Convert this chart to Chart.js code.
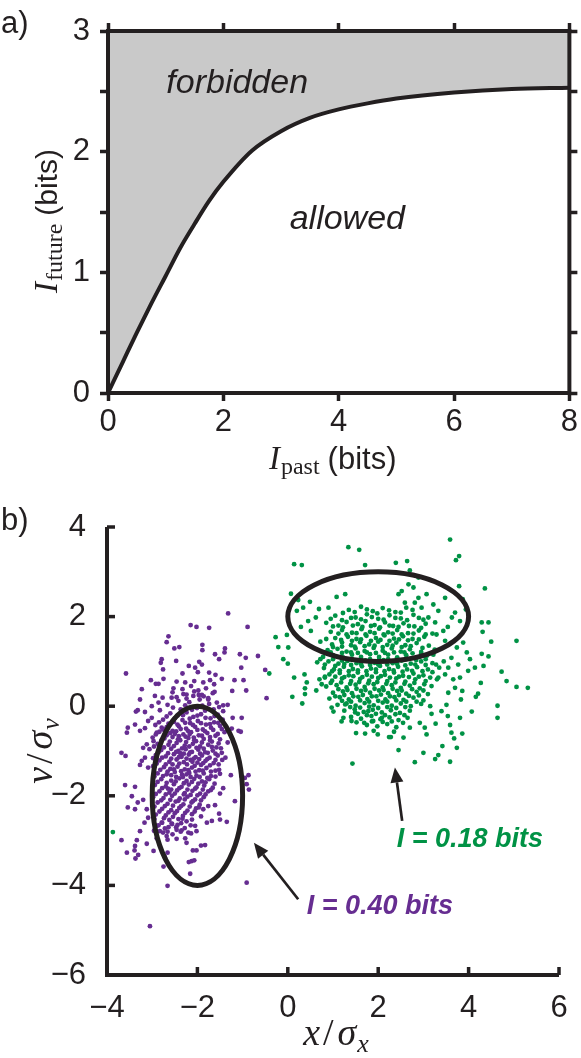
<!DOCTYPE html>
<html>
<head>
<meta charset="utf-8">
<script src="https://cdn.jsdelivr.net/npm/chart.js@4.4.0/dist/chart.umd.min.js"></script>
<style>
  body { margin: 0; background: #fff; }
  #wrap { position: relative; width: 581px; height: 1058px; }
  canvas { position: absolute; left: 0; }
  #boundChart { top: 0; }
  #scatterChart { top: 480px; }
</style>
</head>
<body>
<div id="wrap">
  <canvas id="boundChart" width="581" height="480"></canvas>
  <canvas id="scatterChart" width="581" height="578"></canvas>
</div>
<script>
// ---------- panel a: information bound ----------
const pastBits   = [0, 0.25, 0.5, 0.75, 1, 1.25, 1.5, 1.75, 2, 2.5, 3, 3.5, 4, 4.5, 5, 6, 7, 8];
const futureBits = [0, 0.25, 0.5, 0.74, 0.97, 1.2, 1.4, 1.59, 1.75, 2.01, 2.17, 2.28, 2.35, 2.4, 2.44, 2.49, 2.52, 2.53];
const regionNames = ['forbidden', 'allowed'];

// ---------- panel b: samples ----------
const purplePoints = [
  // sparse halo
  [-1.32,2.07],[-2.15,1.81],[-2.02,1.77],[-1.74,1.75],[-0.89,1.77],[-2.64,1.56],[-2.68,1.43],[-2.40,1.32],
  [-2.51,1.29],[-1.89,1.37],[-1.89,1.25],[-1.39,1.29],[-1.40,1.20],[-1.61,1.16],[-1.06,1.16],[-0.93,1.08],
  [-1.52,1.05],[-2.79,1.05],[-2.47,1.01],[-2.81,0.97],[-1.96,0.99],[-1.90,0.93],[-2.19,0.90],[-2.05,0.86],
  [-1.03,0.86],[-2.76,0.82],[-3.58,0.73],[-2.33,0.73],[-1.99,0.76],[-1.74,0.75],[-1.60,0.70],[-1.46,0.61],
  [-1.18,0.58],[-0.98,0.58],[-3.03,0.58],[-2.92,0.50],[-2.86,0.50],[-2.75,0.61],[-2.46,0.55],[-2.27,0.53],
  [-2.07,0.56],[-1.87,0.53],[-1.72,0.58],[-3.23,0.38],[-2.53,0.40],[-2.33,0.38],[-2.14,0.45],[-1.98,0.35],
  [-1.81,0.40],[-1.63,0.49],[-1.62,0.32],[-1.23,0.34],[-0.92,0.35],[-3.27,0.15],[-2.94,0.23],[-2.77,0.19],
  [-2.57,0.19],[-2.24,0.26],[-2.09,0.23],[-1.90,0.25],[-1.76,0.15],[-1.57,0.08],[-1.43,0.02],[-1.33,0.03],
  [-1.43,-0.11],[-3.36,-0.12],[-3.32,-0.09],[-3.16,-0.13],[-3.01,0.0],[-2.86,0.08],[-3.01,-0.26],[-3.09,-0.33],
  [-1.22,-0.26],[-1.02,-0.26],[-3.54,-0.48],[-3.56,-0.59],[-3.27,-0.55],[-3.16,-0.49],[-3.38,-0.41],[-2.79,-0.48],
  [-2.90,-0.59],[-1.09,-0.55],[-1.04,-0.57],[-1.24,-0.50],[-3.12,-0.85],[-3.20,-0.93],[-3.68,-1.04],[-3.59,-1.11],
  [-2.97,-0.78],[-3.27,-1.31],[-3.23,-1.22],[-3.16,-1.15],[-3.09,-1.37],[-0.87,-1.54],[-0.95,-1.60],[-0.91,-1.74],
  [-0.86,-1.86],[-1.03,-1.56],[-1.26,-1.54],[-1.17,-2.12],[-1.43,-1.83],[-1.50,-1.95],[-3.60,-1.76],[-3.38,-1.80],
  [-3.45,-2.01],[-3.54,-2.26],[-3.32,-2.15],[-3.20,-2.09],[-3.38,-2.30],[-3.12,-2.30],[-3.09,-2.49],[-3.17,-2.60],
  [-3.27,-2.79],[-3.34,-2.99],[-3.68,-2.99],[-3.12,-3.07],[-3.38,-3.12],[-3.39,-3.22],[-3.56,-3.27],[-3.31,-3.32],
  [-3.37,-3.40],[-2.97,-3.23],[-2.75,-3.58],[-2.72,-3.37],[-2.66,-3.27],[-2.46,-2.96],[-2.27,-2.95],[-2.24,-3.05],
  [-2.10,-3.22],[-2.02,-3.22],[-1.92,-3.11],[-1.83,-3.10],[-2.19,-3.48],[-2.13,-3.46],[-2.07,-3.44],[-2.16,-3.74],
  [-2.66,-4.01],[-0.91,-3.94],[-3.05,-4.91],[-1.52,-2.40],[-1.35,-2.58],[-1.50,-2.53],[-1.68,-2.56],[-1.79,-2.60],
  [-1.61,-2.21],[-1.76,-2.23],[-1.87,-2.30],[-2.02,-2.79],[-2.05,-2.67],[-2.20,-2.82],[-2.35,-2.77],[-2.47,-2.70],
  [-2.68,-2.90],[-2.83,-2.79],[-2.72,-2.73],[-2.57,-2.62],[-2.79,-2.60],[-2.90,-2.67],[-0.66,1.12],[-0.50,0.81],
  [-0.47,0.18],
  // dense core
  [-2.55,0.31],[-2.31,0.27],[-2.07,0.33],[-1.86,0.22],[-1.66,0.29],[-2.42,0.12],[-2.18,0.09],[-1.95,0.15],
  [-1.74,0.05],[-2.66,0.03],[-2.01,-0.04],[-1.52,-0.02],[-2.37,-0.07],[-2.83,-0.09],[-1.83,-0.1],
  [-2.6,-0.16],[-2.44,-0.21],[-2.24,-0.14],[-2.09,-0.24],[-1.92,-0.18],[-1.71,-0.27],[-1.55,-0.19],[-2.76,-0.3],
  [-2.52,-0.35],[-2.33,-0.31],[-2.16,-0.38],[-1.99,-0.33],[-1.81,-0.41],[-1.63,-0.36],[-1.44,-0.3],[-2.93,-0.42],
  [-2.68,-0.47],[-2.41,-0.45],[-2.25,-0.5],[-2.05,-0.46],[-1.88,-0.52],[-1.7,-0.48],[-1.5,-0.44],
  [-2.84,-0.57],[-2.6,-0.6],[-2.47,-0.56],[-2.31,-0.63],[-2.14,-0.58],[-1.97,-0.65],[-1.78,-0.6],[-1.6,-0.66],
  [-1.4,-0.58],[-2.99,-0.7],[-2.73,-0.72],[-2.55,-0.69],[-2.38,-0.76],[-2.2,-0.71],[-2.03,-0.78],[-1.86,-0.73],
  [-1.68,-0.79],[-1.5,-0.74],[-1.33,-0.81],[-2.88,-0.84],[-2.64,-0.86],[-2.46,-0.82],[-2.28,-0.88],[-2.1,-0.84],
  [-1.94,-0.9],[-1.76,-0.86],[-1.58,-0.92],[-2.17,-0.62],[-2.41,-0.67],
  [-3.06,-0.96],[-2.8,-0.98],[-2.58,-0.95],[-2.42,-1.0],[-2.26,-0.96],[-2.12,-1.02],[-1.98,-0.97],[-1.83,-1.03],
  [-1.66,-0.99],[-1.46,-1.04],[-2.92,-1.09],[-2.7,-1.12],[-2.52,-1.07],[-2.35,-1.13],[-2.19,-1.08],[-2.04,-1.14],
  [-1.9,-1.1],[-1.73,-1.15],[-1.55,-1.1],[-2.84,-1.21],[-2.62,-1.24],[-2.46,-1.19],[-2.3,-1.25],[-2.15,-1.2],
  [-2.0,-1.26],[-1.82,-1.22],[-1.64,-1.27],[-1.45,-1.2],[-2.38,-1.05],[-2.08,-1.17],[-2.55,-1.3],[-1.92,-1.31],
  [-2.23,-1.3],
  [-2.98,-1.34],[-2.74,-1.36],[-2.6,-1.4],[-2.44,-1.35],[-2.28,-1.41],[-2.12,-1.37],[-1.96,-1.43],[-1.8,-1.38],
  [-1.6,-1.44],[-2.88,-1.5],[-2.68,-1.52],[-2.5,-1.47],[-2.34,-1.53],[-2.18,-1.49],[-2.02,-1.55],[-1.86,-1.5],
  [-1.7,-1.56],[-1.5,-1.51],[-2.8,-1.63],[-2.58,-1.66],[-2.4,-1.61],[-2.24,-1.67],[-2.07,-1.62],[-1.9,-1.68],
  [-1.74,-1.63],[-2.47,-1.58],[-2.15,-1.58],
  [-2.94,-1.76],[-2.7,-1.79],[-2.52,-1.74],[-2.35,-1.8],[-2.19,-1.75],[-2.02,-1.81],[-1.85,-1.77],[-1.66,-1.82],
  [-2.84,-1.9],[-2.62,-1.93],[-2.45,-1.88],[-2.28,-1.94],[-2.11,-1.89],[-1.94,-1.95],[-1.76,-1.9],[-2.98,-2.03],
  [-2.75,-2.05],[-2.56,-2.0],[-2.39,-2.06],[-2.22,-2.02],[-2.05,-2.08],[-1.86,-2.03],[-2.65,-1.84],[-2.3,-1.97],
  [-2.88,-2.15],[-2.66,-2.18],[-2.48,-2.13],[-2.31,-2.19],[-2.13,-2.15],[-1.95,-2.2],[-2.78,-2.29],[-2.58,-2.32],
  [-2.4,-2.27],[-2.22,-2.33],[-2.03,-2.28],[-2.92,-2.42],[-2.7,-2.44],[-2.5,-2.39],[-2.32,-2.45],[-2.12,-2.41],
  [-1.92,-2.46],[-2.62,-2.54],[-2.42,-2.52],[-2.24,-2.57],
  [-2.86,-2.66],[-2.64,-2.7],[-2.44,-2.65],[-2.28,-2.72],[-2.76,-2.82],[-2.55,-2.86],[-2.37,-2.8],[-2.14,-2.84],
  [-2.9,-2.95],[-2.66,-2.98],
  // core, second pass (between the first)
  [-2.46,0.2],[-2.24,0.17],[-1.97,0.25],[-1.76,0.18],
  [-2.54,-0.03],[-2.27,0.02],[-2.12,-0.08],[-1.89,0.01],[-1.64,-0.07],
  [-2.68,-0.23],[-2.5,-0.27],[-2.32,-0.2],[-2.17,-0.28],[-2.0,-0.21],[-1.82,-0.26],[-1.62,-0.22],
  [-2.85,-0.36],[-2.64,-0.39],[-2.44,-0.41],[-2.27,-0.37],[-2.1,-0.42],[-1.92,-0.38],[-1.72,-0.4],[-1.54,-0.37],
  [-2.76,-0.52],[-2.55,-0.55],[-2.37,-0.51],[-2.21,-0.55],[-2.0,-0.53],[-1.83,-0.56],[-1.65,-0.53],[-1.46,-0.51],
  [-2.92,-0.63],[-2.68,-0.65],[-2.5,-0.62],[-2.26,-0.68],[-2.08,-0.7],[-1.9,-0.66],[-1.72,-0.69],[-1.55,-0.62],
  [-2.8,-0.77],[-2.61,-0.79],[-2.43,-0.74],[-2.25,-0.8],[-2.07,-0.76],[-1.9,-0.81],[-1.72,-0.76],[-1.53,-0.83],
  [-2.96,-0.9],[-2.74,-0.92],[-2.52,-0.89],[-2.34,-0.94],[-2.18,-0.9],[-2.02,-0.93],[-1.86,-0.95],[-1.68,-0.91],
  [-1.48,-0.94],[-2.86,-1.03],[-2.65,-1.05],[-2.47,-1.02],[-2.3,-1.06],[-2.16,-1.03],[-1.94,-1.06],[-1.77,-1.04],
  [-1.6,-1.06],[-2.98,-1.16],[-2.78,-1.15],[-2.58,-1.17],[-2.41,-1.14],[-2.24,-1.17],[-2.11,-1.24],[-1.96,-1.18],
  [-1.78,-1.18],[-1.6,-1.2],[-1.38,-1.15],[-2.9,-1.28],[-2.7,-1.3],[-2.4,-1.28],[-2.06,-1.33],[-1.87,-1.27],
  [-1.72,-1.32],[-1.53,-1.3],[-2.82,-1.42],[-2.66,-1.46],[-2.52,-1.41],[-2.36,-1.45],[-2.2,-1.43],[-2.04,-1.46],
  [-1.88,-1.44],[-1.7,-1.46],[-1.52,-1.42],[-2.95,-1.57],[-2.76,-1.56],[-2.58,-1.54],[-2.32,-1.58],[-2.24,-1.52],
  [-1.95,-1.58],[-1.78,-1.6],[-1.6,-1.57],[-2.88,-1.69],[-2.68,-1.71],[-2.48,-1.68],[-2.3,-1.72],[-2.12,-1.69],
  [-1.98,-1.73],[-1.82,-1.7],[-1.62,-1.73],[-2.78,-1.83],[-2.58,-1.86],[-2.4,-1.83],[-2.22,-1.86],[-2.05,-1.84],
  [-1.88,-1.86],[-1.7,-1.87],[-2.92,-1.96],[-2.7,-1.97],[-2.5,-1.95],[-2.15,-1.98],[-2.0,-1.99],[-1.82,-1.97],
  [-2.8,-2.1],[-2.6,-2.09],[-2.42,-2.11],[-2.28,-2.08],[-2.1,-2.12],[-1.92,-2.1],[-2.95,-2.24],[-2.72,-2.23],
  [-2.54,-2.22],[-2.36,-2.23],[-2.17,-2.24],[-1.97,-2.26],[-2.84,-2.35],[-2.64,-2.37],[-2.45,-2.34],[-2.27,-2.38],
  [-2.06,-2.35],[-2.95,-2.52],[-2.74,-2.5],[-2.54,-2.47],[-2.33,-2.51],[-2.12,-2.53],[-2.78,-2.6],[-2.56,-2.63],
  [-2.36,-2.61],[-2.15,-2.66],[-2.96,-2.78],[-2.66,-2.8],[-2.46,-2.76]
];

const greenPoints = [
  // sparse halo
  [1.34,3.55],[1.58,3.49],[0.14,3.17],[0.31,3.15],[1.71,3.15],[0.07,2.51],[0.23,2.37],[0.49,2.33],
  [0.34,2.20],[0.69,2.17],[0.90,2.20],[1.08,2.44],[1.27,2.50],[0.20,2.13],[0.45,1.90],[0.62,1.98],
  [0.29,1.77],[0.51,1.68],[-0.27,1.54],[-0.02,1.59],[-0.21,1.32],[0.01,1.31],[-0.10,1.05],[0.0,0.95],
  [-0.41,0.73],[0.14,0.64],[0.37,0.71],[0.42,0.53],[0.38,0.40],[0.10,0.21],[0.38,0.27],[0.32,0.06],
  [0.63,0.35],[0.75,0.49],[0.82,0.64],[0.97,-0.03],[1.01,-0.12],[1.19,-0.34],[1.23,-0.26],[1.41,-0.33],
  [1.51,-0.60],[1.71,-0.61],[1.99,-0.63],[2.24,-0.69],[1.43,-1.28],[1.69,-0.37],[1.27,0.04],[1.49,-0.14],
  [1.89,-0.33],[2.08,-0.26],[1.78,-0.11],
  [3.59,3.72],[3.79,3.35],[3.72,3.26],[2.39,3.20],[2.64,3.24],[2.70,3.03],[4.36,2.63],[3.79,2.68],
  [3.48,2.42],[3.87,2.39],[3.94,2.16],[4.29,1.87],[4.44,1.87],[4.31,1.66],[4.50,1.44],[5.06,1.46],
  [4.29,1.17],[4.44,1.11],[4.33,0.90],[3.96,1.20],[4.03,1.05],[4.14,0.86],[4.73,0.77],[4.84,0.56],
  [5.06,0.43],[5.31,0.41],[4.27,0.52],[4.21,0.28],[4.16,0.21],[4.64,0.01],[4.64,-0.26],[4.07,-0.12],
  [3.83,0.15],[3.86,0.34],[3.81,-0.26],[3.59,-0.42],[3.62,-0.59],[3.86,-0.61],[3.68,-0.72],[3.74,-0.93],
  [3.42,-0.89],[3.33,-1.09],[3.26,-1.18],[3.59,-1.24],[3.00,-1.04],[2.81,-1.25],[2.45,-0.98],[2.56,-0.70],
  [2.28,-0.69],[3.07,-0.63],[3.03,-0.48],[3.27,-0.39],[3.54,-0.22],[3.51,0.03],[3.40,-0.11],[3.15,0.0],
  [2.70,-0.48],[2.92,-0.37],[3.18,-0.17],[3.55,0.30],[3.70,0.41],[3.77,0.93],[3.99,0.79],[3.81,0.64],
  [3.66,0.60],[3.48,0.71],[3.33,0.64],[3.55,0.86],[3.88,1.42],[3.74,1.31],[3.62,1.08],[3.48,1.46],
  [3.44,1.68],[3.29,1.60],[3.26,1.87],[3.11,1.98],[3.33,2.13],[2.96,2.20],[3.22,2.27],[2.81,2.31],
  [2.89,2.42],[2.59,2.31],[2.45,2.50],[2.67,2.72],[2.52,2.57],[2.78,2.65],[2.89,2.87],[3.07,2.50],
  [3.63,1.98],[3.70,2.09],[3.81,1.90],[3.54,1.77],[-3.87,-2.81],
  // dense core
  [1.35,2.15],[1.62,2.22],[1.88,2.12],[2.1,2.19],[2.38,2.1],[2.62,2.2],[1.05,2.02],[1.5,1.98],
  [1.75,2.05],[2.0,1.95],[2.25,2.03],[2.5,1.96],[2.78,2.04],[3.0,1.93],
  [0.85,1.86],[1.12,1.8],[1.3,1.88],[1.55,1.83],[1.72,1.9],[1.92,1.81],[2.15,1.87],[2.33,1.79],
  [2.56,1.85],[2.8,1.78],[3.05,1.84],[0.95,1.66],[1.2,1.7],[1.42,1.64],[1.63,1.72],[1.82,1.66],
  [2.02,1.73],[2.22,1.65],[2.42,1.7],[2.66,1.63],[2.9,1.69],[3.2,1.62],[1.05,1.52],[1.33,1.55],
  [1.52,1.5],[1.74,1.57],[1.95,1.52],[2.14,1.58],[2.35,1.51],[2.55,1.56],[2.76,1.5],[3.02,1.55],
  [0.72,1.44],[0.98,1.38],[1.2,1.42],[1.4,1.36],[1.6,1.43],[1.8,1.38],[2.0,1.44],[2.2,1.37],
  [2.4,1.42],[2.6,1.36],[2.85,1.41],[3.12,1.35],[0.88,1.25],[1.1,1.28],[1.3,1.22],[1.5,1.29],
  [1.7,1.23],[1.9,1.3],[2.1,1.24],[2.3,1.29],[2.5,1.22],[2.7,1.27],[2.95,1.21],[3.25,1.26],
  [0.78,1.1],[1.0,1.14],[1.22,1.09],[1.42,1.15],[1.62,1.1],[1.82,1.16],[2.02,1.1],[2.22,1.15],
  [2.42,1.09],[2.62,1.14],[2.84,1.08],[3.08,1.13],[1.55,1.19],[2.15,1.19],[2.76,1.18],
  [0.65,0.98],[0.9,1.0],[1.12,0.95],[1.32,1.01],[1.52,0.96],[1.72,1.02],[1.92,0.97],[2.12,1.03],
  [2.32,0.96],[2.52,1.02],[2.72,0.95],[2.95,1.0],[3.2,0.96],[3.45,1.0],[0.8,0.85],[1.02,0.82],
  [1.24,0.88],[1.44,0.83],[1.64,0.89],[1.84,0.84],[2.04,0.9],[2.24,0.83],[2.44,0.88],[2.64,0.82],
  [2.86,0.87],[3.1,0.82],[3.35,0.86],[0.92,0.71],[1.15,0.74],[1.35,0.69],[1.55,0.75],[1.75,0.7],
  [1.95,0.76],[2.15,0.7],[2.35,0.75],[2.55,0.68],[2.78,0.73],[3.0,0.69],[2.0,0.93],[2.6,0.91],[1.4,0.92],
  [0.7,0.6],[0.98,0.57],[1.2,0.62],[1.4,0.56],[1.6,0.61],[1.8,0.57],[2.0,0.63],[2.2,0.56],
  [2.4,0.62],[2.6,0.55],[2.82,0.6],[3.05,0.56],[3.3,0.6],[0.85,0.44],[1.08,0.47],[1.3,0.42],
  [1.5,0.48],[1.7,0.43],[1.9,0.49],[2.1,0.42],[2.3,0.47],[2.5,0.41],[2.7,0.46],[2.92,0.4],
  [3.18,0.45],[1.0,0.3],[1.22,0.33],[1.42,0.29],[1.62,0.34],[1.82,0.3],[2.02,0.35],[2.22,0.29],
  [2.42,0.34],[2.62,0.28],[2.85,0.32],[3.1,0.27],
  [0.92,0.17],[1.15,0.2],[1.35,0.15],[1.56,0.21],[1.76,0.16],[1.96,0.22],[2.16,0.15],[2.36,0.2],
  [2.56,0.14],[2.78,0.19],[3.0,0.13],[1.1,0.03],[1.3,0.06],[1.5,0.01],[1.7,0.07],[1.9,0.02],
  [2.1,0.08],[2.3,0.01],[2.5,0.06],[2.72,0.0],[2.95,0.05],[1.25,-0.1],[1.48,-0.07],[1.68,-0.13],
  [1.88,-0.08],[2.08,-0.14],[2.28,-0.09],[2.48,-0.15],[2.7,-0.1],
  [1.4,-0.24],[1.62,-0.28],[1.85,-0.22],[2.05,-0.29],[2.25,-0.25],[2.45,-0.31],[2.65,-0.26],[1.75,-0.42],
  [1.98,-0.45],[2.2,-0.4],[2.4,-0.47],[1.9,-0.55],[2.35,-0.57],
  // core, second pass
  [1.22,2.08],[1.48,2.1],[1.75,2.16],[1.98,2.07],[2.24,2.14],[2.5,2.09],[2.76,2.15],
  [0.95,1.95],[1.2,1.92],[1.4,1.97],[1.62,1.94],[1.86,1.99],[2.12,1.93],[2.38,1.97],[2.64,1.92],[2.9,1.97],
  [1.0,1.78],[1.22,1.76],[1.44,1.8],[1.65,1.77],[1.84,1.79],[2.04,1.76],[2.25,1.8],[2.45,1.77],[2.68,1.79],[2.95,1.75],
  [1.12,1.62],[1.3,1.6],[1.52,1.63],[1.72,1.6],[1.92,1.63],[2.12,1.6],[2.32,1.62],[2.52,1.6],[2.78,1.62],[3.05,1.6],
  [0.85,1.5],[1.18,1.48],[1.42,1.46],[1.62,1.49],[1.84,1.46],[2.05,1.48],[2.25,1.46],[2.46,1.49],[2.66,1.47],[2.9,1.49],
  [1.0,1.32],[1.2,1.33],[1.48,1.33],[1.7,1.34],[1.92,1.35],[2.1,1.32],[2.32,1.35],[2.52,1.32],[2.72,1.34],[2.98,1.3],
  [0.95,1.2],[1.2,1.19],[1.4,1.2],[1.75,1.2],[1.95,1.19],[2.35,1.2],[2.58,1.2],[2.95,1.17],[3.22,1.15],
  [0.72,1.05],[1.0,1.05],[1.2,1.02],[1.42,1.05],[1.62,1.04],[1.82,1.05],[2.02,1.04],[2.22,1.05],[2.42,1.03],
  [2.62,1.05],[2.84,1.03],[3.05,1.05],
  [0.82,0.93],[1.05,0.9],[1.25,0.94],[1.62,0.94],[1.82,0.92],[2.2,0.93],[2.42,0.94],[2.82,0.93],[3.05,0.92],[3.28,0.93],
  [0.98,0.78],[1.15,0.8],[1.35,0.78],[1.55,0.8],[1.74,0.78],[1.95,0.82],[2.14,0.78],[2.34,0.8],[2.54,0.77],
  [2.75,0.79],[2.98,0.78],[3.2,0.76],
  [0.82,0.66],[1.05,0.66],[1.25,0.65],[1.45,0.67],[1.65,0.65],[1.86,0.66],[2.06,0.67],[2.26,0.64],[2.46,0.66],
  [2.68,0.65],[2.9,0.66],[3.15,0.64],
  [0.95,0.52],[1.18,0.53],[1.38,0.5],[1.58,0.54],[1.78,0.51],[1.98,0.54],[2.18,0.5],[2.38,0.53],[2.58,0.5],
  [2.8,0.52],[3.02,0.49],
  [1.12,0.38],[1.32,0.36],[1.52,0.39],[1.72,0.36],[1.92,0.39],[2.12,0.36],[2.32,0.39],[2.52,0.35],[2.75,0.38],[3.0,0.35],
  [1.05,0.22],[1.25,0.25],[1.45,0.22],[1.66,0.25],[1.86,0.22],[2.06,0.26],[2.26,0.22],[2.46,0.25],[2.68,0.23],[2.9,0.24],
  [1.2,0.12],[1.4,0.1],[1.6,0.13],[1.8,0.1],[2.0,0.12],[2.2,0.1],[2.4,0.13],[2.62,0.1],[2.85,0.1],
  [1.38,-0.02],[1.6,-0.03],[1.8,-0.01],[2.0,-0.04],[2.2,-0.02],[2.4,-0.04],[2.6,-0.02],
  [1.55,-0.17],[1.75,-0.2],[1.95,-0.17],[2.15,-0.2],[2.38,-0.18],[2.58,-0.2],
  [1.52,-0.36],[1.86,-0.34],[2.1,-0.35],[2.3,-0.34],[2.55,-0.37]
];

// covariance ellipses (centre and semi-axes, in sigma units)
const ellipseCx = [-2, 2];
const ellipseCy = [-2, 2];
const ellipseRx = [1, 2];
const ellipseRy = [2, 1];

const infoLabels = ['I = 0.40 bits', 'I = 0.18 bits'];
const arrowTails = [[0.23, -4.31], [2.53, -2.56]];
const arrowHeads = [[-0.75, -3.05], [2.37, -1.37]];

// ---------- styling ----------
const INK = '#231f20';
const PURPLE = '#662d91';
const GREEN = '#009245';
const SANS = '"Liberation Sans", Arial, Helvetica, sans-serif';
const SERIF = '"Liberation Serif", "Times New Roman", serif';

// where annotation text sits, in data units
const regionAnchors = [[2.24, 2.49], [4.15, 1.36]];
const infoAnchors = [[0.42, -4.64], [2.41, -3.15]];

// draws a run of differently styled pieces centred on (x, y) baseline
function drawParts(ctx, parts, x, y, angle) {
  ctx.save();
  ctx.translate(x, y);
  ctx.rotate(angle || 0);
  ctx.textAlign = 'left';
  ctx.textBaseline = 'alphabetic';
  ctx.fillStyle = INK;
  let total = 0;
  parts.forEach(p => { ctx.font = p.font; total += ctx.measureText(p.text).width + (p.gap || 0); });
  let cx = -total / 2;
  parts.forEach(p => {
    ctx.font = p.font;
    ctx.fillText(p.text, cx, p.dy || 0);
    cx += ctx.measureText(p.text).width + (p.gap || 0);
  });
  ctx.restore();
}

function drawArrow(ctx, x1, y1, x2, y2) {
  const ang = Math.atan2(y2 - y1, x2 - x1);
  const headLen = 15, headW = 6.5;
  const bx = x2 - headLen * Math.cos(ang);
  const by = y2 - headLen * Math.sin(ang);
  ctx.strokeStyle = INK;
  ctx.fillStyle = INK;
  ctx.lineWidth = 2.7;
  ctx.beginPath();
  ctx.moveTo(x1, y1);
  ctx.lineTo(bx, by);
  ctx.stroke();
  ctx.beginPath();
  ctx.moveTo(x2, y2);
  ctx.lineTo(bx + headW * Math.sin(ang), by - headW * Math.cos(ang));
  ctx.lineTo(bx - headW * Math.sin(ang), by + headW * Math.cos(ang));
  ctx.closePath();
  ctx.fill();
}

// ---------- panel a ----------
const boundDecor = {
  id: 'boundDecor',
  afterDraw(chart) {
    const ctx = chart.ctx;
    const area = chart.chartArea;
    const xs = chart.scales.x, ys = chart.scales.y;

    // frame
    ctx.save();
    ctx.strokeStyle = INK;
    ctx.lineWidth = 4;
    ctx.lineJoin = 'miter';
    ctx.strokeRect(area.left, area.top, area.right - area.left, area.bottom - area.top);

    // region names
    ctx.fillStyle = INK;
    ctx.font = 'italic 34px ' + SANS;
    ctx.textAlign = 'center';
    ctx.textBaseline = 'alphabetic';
    regionNames.forEach((name, i) => {
      ctx.fillText(name, xs.getPixelForValue(regionAnchors[i][0]), ys.getPixelForValue(regionAnchors[i][1]));
    });

    // panel letter
    ctx.font = '31px ' + SANS;
    ctx.textAlign = 'left';
    ctx.fillText('a)', 1, 33);
    ctx.restore();

    drawParts(ctx, [
      { text: 'I', font: 'italic 33px ' + SERIF, gap: 1 },
      { text: 'past', font: '24px ' + SERIF, dy: 5, gap: 8 },
      { text: '(bits)', font: '31px ' + SANS }
    ], (area.left + area.right) / 2 - 6, 469, 0);
    drawParts(ctx, [
      { text: 'I', font: 'italic 33px ' + SERIF, gap: 1 },
      { text: 'future', font: '24px ' + SERIF, dy: 5, gap: 8 },
      { text: '(bits)', font: '30px ' + SANS }
    ], 57, (area.top + area.bottom) / 2 + 9, -Math.PI / 2);
  }
};

const tickFont = { family: SANS, size: 31 };
const outwardGrid = { drawOnChartArea: false, tickLength: 8, tickWidth: 3.5, color: INK };

new Chart(document.getElementById('boundChart'), {
  type: 'line',
  data: {
    datasets: [{
      data: pastBits.map((x, i) => ({ x: x, y: futureBits[i] })),
      borderColor: INK,
      borderWidth: 4,
      pointRadius: 0,
      cubicInterpolationMode: 'monotone',
      fill: 'end',
      backgroundColor: '#c9c9c9'
    }]
  },
  options: {
    responsive: false,
    animation: false,
    devicePixelRatio: 1,
    layout: { padding: 0 },
    plugins: { legend: { display: false }, tooltip: { enabled: false } },
    scales: {
      x: {
        type: 'linear', position: 'bottom', min: 0, max: 8,
        ticks: { stepSize: 2, font: tickFont, color: INK, padding: 3, maxRotation: 0 },
        grid: outwardGrid, border: { display: false },
        afterFit: s => { s.height = 87; }
      },
      xTop: {
        type: 'linear', position: 'top', min: 0, max: 8,
        ticks: { stepSize: 2, display: false },
        grid: outwardGrid, border: { display: false },
        afterFit: s => { s.height = 31; }
      },
      y: {
        type: 'linear', position: 'left', min: 0, max: 3,
        ticks: {
          stepSize: 0.5, autoSkip: false, font: tickFont, color: INK, padding: 10,
          callback: v => (Number.isInteger(v) ? String(v) : '')
        },
        grid: outwardGrid, border: { display: false },
        afterFit: s => { s.width = 108; }
      },
      yRight: {
        type: 'linear', position: 'right', min: 0, max: 3,
        ticks: { stepSize: 0.5, display: false },
        grid: outwardGrid, border: { display: false },
        afterFit: s => { s.width = 11; }
      }
    }
  },
  plugins: [boundDecor]
});

// ---------- panel b ----------
const scatterDecor = {
  id: 'scatterDecor',
  afterDatasetsDraw(chart) {
    const ctx = chart.ctx;
    const xs = chart.scales.x, ys = chart.scales.y;
    ctx.save();
    // ellipses
    ctx.strokeStyle = INK;
    ctx.lineWidth = 5;
    ellipseCx.forEach((c, i) => {
      const cx = xs.getPixelForValue(c);
      const cy = ys.getPixelForValue(ellipseCy[i]);
      const rx = Math.abs(xs.getPixelForValue(c + ellipseRx[i]) - cx);
      const ry = Math.abs(ys.getPixelForValue(ellipseCy[i] + ellipseRy[i]) - cy);
      ctx.beginPath();
      ctx.ellipse(cx, cy, rx, ry, 0, 0, Math.PI * 2);
      ctx.stroke();
    });
    // arrows
    arrowTails.forEach((t, i) => {
      drawArrow(ctx,
        xs.getPixelForValue(t[0]), ys.getPixelForValue(t[1]),
        xs.getPixelForValue(arrowHeads[i][0]), ys.getPixelForValue(arrowHeads[i][1]));
    });
    // information labels
    ctx.font = 'italic bold 27px ' + SANS;
    ctx.textAlign = 'left';
    ctx.textBaseline = 'alphabetic';
    [PURPLE, GREEN].forEach((col, i) => {
      ctx.fillStyle = col;
      ctx.fillText(infoLabels[i], xs.getPixelForValue(infoAnchors[i][0]), ys.getPixelForValue(infoAnchors[i][1]));
    });
    ctx.restore();
  },
  afterDraw(chart) {
    const ctx = chart.ctx;
    const area = chart.chartArea;
    const xs = chart.scales.x, ys = chart.scales.y;
    ctx.save();
    ctx.strokeStyle = INK;
    // inward tick marks
    ctx.lineWidth = 3.5;
    xs.ticks.forEach(t => {
      const p = xs.getPixelForValue(t.value);
      ctx.beginPath(); ctx.moveTo(p, area.bottom); ctx.lineTo(p, area.bottom - 8); ctx.stroke();
    });
    ys.ticks.forEach(t => {
      const p = ys.getPixelForValue(t.value);
      ctx.beginPath(); ctx.moveTo(area.left, p); ctx.lineTo(area.left + 8, p); ctx.stroke();
    });
    // axis lines
    ctx.lineWidth = 4;
    ctx.lineJoin = 'miter';
    ctx.beginPath();
    ctx.moveTo(area.left, area.top);
    ctx.lineTo(area.left, area.bottom);
    ctx.lineTo(area.right, area.bottom);
    ctx.stroke();

    ctx.fillStyle = INK;
    ctx.font = '31px ' + SANS;
    ctx.textAlign = 'left';
    ctx.fillText('b)', 1, 50);
    ctx.restore();

    drawParts(ctx, [
      { text: 'x', font: 'italic 38px ' + SERIF, gap: 3 },
      { text: '/', font: '38px ' + SERIF, gap: 4 },
      { text: '\u03c3', font: 'italic 38px ' + SERIF, gap: 1 },
      { text: 'x', font: 'italic 26px ' + SERIF, dy: 7 }
    ], (area.left + area.right) / 2 + 3, 565, 0);
    drawParts(ctx, [
      { text: 'v', font: 'italic 38px ' + SERIF, gap: 3 },
      { text: '/', font: '38px ' + SERIF, gap: 4 },
      { text: '\u03c3', font: 'italic 38px ' + SERIF, gap: 1 },
      { text: 'v', font: 'italic 26px ' + SERIF, dy: 7 }
    ], 52, (area.top + area.bottom) / 2, -Math.PI / 2);
  }
};

const minusLabel = v => String(v).replace('-', '\u2212');

new Chart(document.getElementById('scatterChart'), {
  type: 'scatter',
  data: {
    datasets: [
      {
        data: purplePoints.map(p => ({ x: p[0], y: p[1] })),
        backgroundColor: PURPLE, pointRadius: 2.4, borderWidth: 0
      },
      {
        data: greenPoints.map(p => ({ x: p[0], y: p[1] })),
        backgroundColor: GREEN, pointRadius: 2.4, borderWidth: 0
      }
    ]
  },
  options: {
    responsive: false,
    animation: false,
    devicePixelRatio: 1,
    layout: { padding: { top: 47, right: 22, left: 0, bottom: 0 } },
    plugins: { legend: { display: false }, tooltip: { enabled: false } },
    scales: {
      x: {
        type: 'linear', min: -4, max: 6,
        ticks: { stepSize: 2, font: tickFont, color: INK, padding: 7, maxRotation: 0, callback: minusLabel },
        grid: { display: false }, border: { display: false },
        afterFit: s => { s.height = 83; }
      },
      y: {
        type: 'linear', min: -6, max: 4,
        ticks: { stepSize: 2, font: tickFont, color: INK, padding: 13, callback: minusLabel },
        grid: { display: false }, border: { display: false },
        afterFit: s => { s.width = 107; }
      }
    }
  },
  plugins: [scatterDecor]
});
</script>
</body>
</html>
